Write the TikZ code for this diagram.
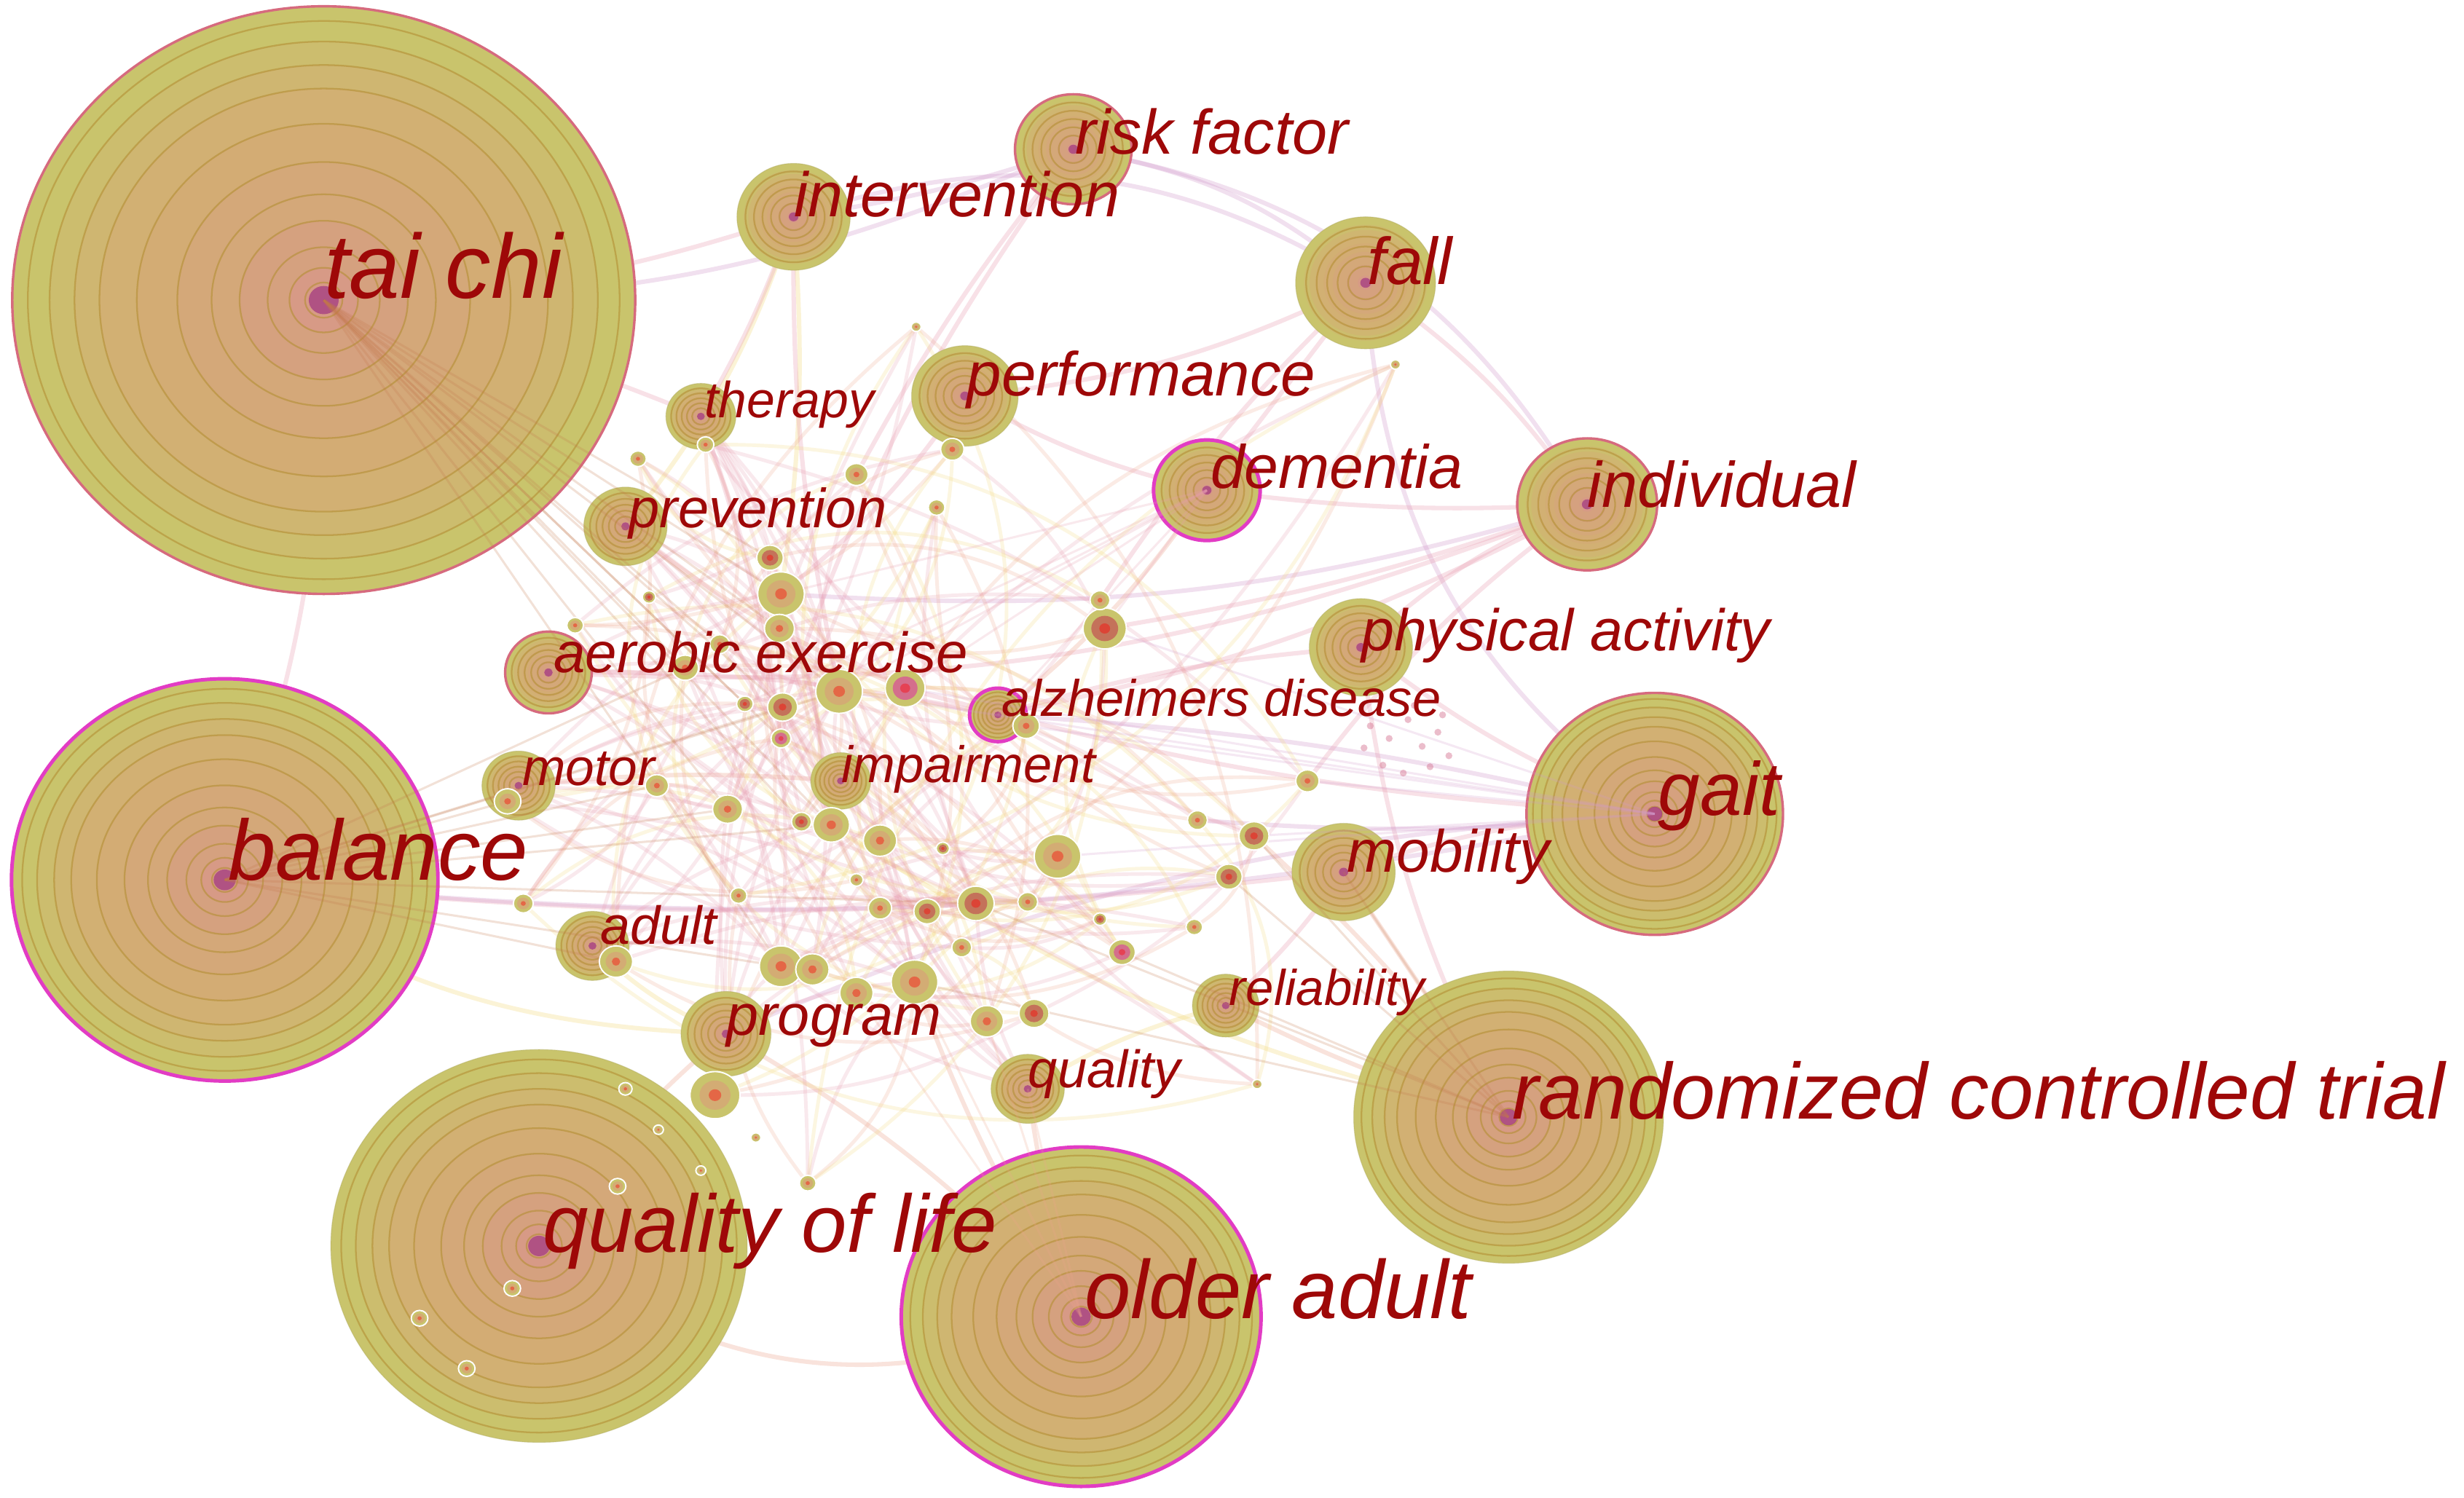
\documentclass[tikz,border=0pt]{standalone}
\usepackage{fontspec}
\newfontfamily\kwfont{Liberation Sans}
\usetikzlibrary{calc}

\definecolor{kwolive}{HTML}{C9C46C}
\definecolor{kwtan}{HTML}{D3AC74}
\definecolor{kwcore}{HTML}{D79A86}
\definecolor{kwringc}{HTML}{B48F34}
\definecolor{kwheart}{HTML}{A03482}
\definecolor{kwbrick}{HTML}{C4725A}
\definecolor{kwpinkc}{HTML}{D46E8C}
\definecolor{kwred}{HTML}{9E0808}
\definecolor{rimpinkc}{HTML}{D66A7E}
\definecolor{rimmagc}{HTML}{E23CC4}
\definecolor{lnkpurple}{HTML}{D29ACB}
\definecolor{lnkpink}{HTML}{E89CB0}
\definecolor{lnksalmon}{HTML}{EEA58C}
\definecolor{lnkyellow}{HTML}{F3D97A}
\definecolor{lnkbrown}{HTML}{C4784C}

\tikzset{
  kwring/.style={draw=kwringc, line width=0.6pt, opacity=0.6},
  rimpink/.style={draw=rimpinkc, line width=0.9pt},
  rimmag/.style={draw=rimmagc, line width=1.3pt},
  rimnone/.style={draw=kwolive!85!black, line width=0.3pt, opacity=0.4},
  lnk/.style={line width=1.6pt, opacity=0.3, line cap=round},
  web/.style={line width=1.3pt, opacity=0.22, line cap=round},
  fan/.style={lnkbrown, line width=0.8pt, opacity=0.22},
  kwlabel/.style={anchor=base west, inner sep=0pt, text=kwred,
    font=\kwfont\itshape\fontsize{#1}{#1}\selectfont}
}

\def\bigrings{0.95,0.88,0.8,0.72,0.6,0.47,0.36,0.27,0.18,0.11,0.06}
\def\smallrings{0.85,0.7,0.55,0.4,0.25}
% fill bands: radius fraction / colour
\def\bands{1/kwolive, 0.88/kwtan!30!kwolive, 0.8/kwtan!60!kwolive,
  0.72/kwtan!85!kwolive, 0.6/kwtan, 0.47/kwcore!25!kwtan,
  0.27/kwcore!60!kwtan, 0.11/kwcore}

% keyword: name/x/y/radius/rim
\def\kwlist{taichi/206/191/187/rimpink, balance/143/560/128/rimmag,
  qol/343/793/125/rimnone, olderadult/688/838/108/rimmag,
  rct/960/711/93/rimnone, gait/1053/518/77/rimpink,
  fall/869/180/42/rimnone, riskfactor/683/95/35/rimpink,
  intervention/505/138/34/rimnone, individual/1010/321/42/rimpink,
  dementia/768/312/32/rimmag, performance/614/252/32/rimnone,
  therapy/446/265/21/rimnone, prevention/398/335/25/rimnone,
  physact/866/412/31/rimnone, aerobic/349/428/26/rimpink,
  alzheimers/635/455/17/rimmag, motor/330/500/22/rimnone,
  impairment/535/497/18/rimnone, mobility/855/555/31/rimnone,
  adult/377/602/22/rimnone, program/462/658/27/rimnone,
  reliability/780/640/20/rimnone, quality/654/693/22/rimnone}

% small keywords: index/x/y/radius/core
\def\dotlist{1/490/355/8/kwbrick, 2/497/378/14/kwtan, 3/496/400/9/kwtan,
  4/545/302/7/kwtan, 5/596/323/5/kwtan, 6/583/208/3/kwtan, 7/606/286/7/kwtan,
  8/703/400/13/kwbrick, 9/700/382/6/kwtan, 10/534/440/14/kwtan,
  11/576/438/12/kwpinkc, 12/498/450/9/kwbrick, 13/497/470/6/kwpinkc,
  14/529/525/11/kwtan, 15/560/535/10/kwtan, 16/510/523/6/kwbrick,
  17/463/515/9/kwtan, 18/418/500/7/kwtan, 19/436/425/8/kwtan,
  20/474/448/5/kwbrick, 21/673/545/14/kwtan, 22/762/522/6/kwtan,
  23/798/532/9/kwbrick, 24/782/558/8/kwbrick, 25/832/497/7/kwtan,
  26/621/575/11/kwbrick, 27/590/580/8/kwbrick, 28/560/578/7/kwtan,
  29/582/625/14/kwtan, 30/612/603/6/kwtan, 31/654/574/6/kwtan,
  32/714/606/8/kwpinkc, 33/545/632/10/kwtan, 34/497/615/13/kwtan,
  35/517/617/10/kwtan, 36/628/650/10/kwtan, 37/658/645/9/kwbrick,
  38/455/697/15/kwtan, 39/514/753/5/kwtan, 40/392/612/10/kwtan,
  41/333/575/6/kwtan, 42/323/510/8/kwtan, 43/800/690/3/kwtan,
  44/888/232/3/kwtan, 45/406/292/5/kwtan, 46/449/283/5/kwtan,
  47/653/462/8/kwtan, 48/458/410/6/kwtan, 49/413/380/4/kwbrick,
  50/366/398/5/kwtan, 51/700/585/4/kwbrick, 52/760/590/5/kwtan,
  53/545/560/4/kwtan, 54/470/570/5/kwtan, 55/600/540/4/kwbrick,
  56/398/693/4/kwtan, 57/419/719/3/kwtan, 58/446/745/3/kwtan,
  59/393/755/5/kwtan, 60/326/820/5/kwtan, 61/267/839/5/kwtan,
  62/297/871/5/kwtan, 63/481/724/3/kwtan}

% tree-ring circle of a keyword
\newcommand{\kwcircle}[3]{%
  \ifnum#2>60 \let\ringset\bigrings \else \let\ringset\smallrings \fi
  \foreach \f/\c in \bands
    \fill[\c] (#1) ellipse [x radius=\f*1.06*#2, y radius=\f*#2];
  \foreach \f in \ringset
    \draw[kwring] (#1) ellipse [x radius=\f*1.06*#2, y radius=\f*#2];
  \fill[kwheart, opacity=0.7] (#1) ellipse [x radius=1.06*(1.5+0.04*#2), y radius=1.5+0.04*#2];
  \draw[#3] (#1) ellipse [x radius=1.06*#2, y radius=#2];
}
\newcommand{\kwdot}[3]{%
  \filldraw[kwolive, draw=white, line width=0.5pt]
    (#1) ellipse [x radius=1.06*#2, y radius=#2];
  \fill[#3] (#1) ellipse [x radius=0.62*1.06*#2, y radius=0.62*#2];
  \fill[#3!60!red] (#1) ellipse [x radius=0.25*1.06*#2, y radius=0.25*#2];
}

\begin{document}
\begin{tikzpicture}[x=0.02cm, y=-0.02cm]
  \useasboundingbox (0,0) rectangle (1568,953);
  \fill[white] (0,0) rectangle (1568,953);

  % positions
  \foreach \n/\x/\y/\r/\rim in \kwlist
    \coordinate (\n) at (\x,\y);
  \foreach \n/\x/\y/\r/\c in \dotlist
    \coordinate (d\n) at (\x,\y);

  % links between keywords
  \foreach \a/\b/\c/\bend in {intervention/fall/lnkpurple/25,
      riskfactor/fall/lnkpurple/15, riskfactor/individual/lnkpurple/25,
      fall/individual/lnkpink/10, fall/gait/lnkpurple/-25,
      fall/dementia/lnkpink/0, fall/performance/lnkpink/10,
      individual/dementia/lnkpink/5, individual/physact/lnkpink/-10,
      individual/alzheimers/lnkpink/8, individual/d8/lnkpink/5,
      individual/aerobic/lnkpink/12, individual/d2/lnkpurple/10,
      gait/alzheimers/lnkpurple/-5, gait/physact/lnkpink/8,
      gait/mobility/lnkpink/-8, gait/d11/lnkpink/6, gait/program/lnkpurple/-10,
      rct/mobility/lnksalmon/0, rct/reliability/lnksalmon/5,
      rct/d23/lnksalmon/-5, rct/physact/lnkpink/10, rct/d14/lnkyellow/10,
      olderadult/quality/lnksalmon/5, olderadult/program/lnksalmon/-8,
      olderadult/d29/lnksalmon/6, qol/program/lnksalmon/8,
      qol/olderadult/lnksalmon/-30, taichi/balance/lnkpink/10,
      taichi/intervention/lnkpink/-8, taichi/therapy/lnkpink/5,
      taichi/riskfactor/lnkpurple/-12, balance/mobility/lnkpink/-6,
      balance/gait/lnkpurple/-8, dementia/performance/lnkpink/8,
      riskfactor/intervention/lnkpurple/5, riskfactor/d4/lnkpink/-5,
      riskfactor/d12/lnkpink/-8, intervention/d2/lnkyellow/6,
      intervention/d10/lnkpink/-6, performance/d2/lnkpink/8,
      intervention/prevention/lnkyellow/10, therapy/d13/lnkpink/5,
      prevention/d11/lnksalmon/-8, aerobic/alzheimers/lnkpink/6,
      motor/impairment/lnksalmon/5, adult/program/lnkyellow/-10,
      mobility/reliability/lnkpink/6, quality/reliability/lnkyellow/8,
      physact/alzheimers/lnkpink/-6, dementia/alzheimers/lnksalmon/8,
      fall/d9/lnkpink/-6, individual/d25/lnkpink/-8, gait/d22/lnkpurple/5,
      balance/program/lnkyellow/-15, intervention/therapy/lnkpink/5}
    \draw[lnk, \c] (\a) to[bend left=\bend] (\b);

  % dense web in the middle
  \foreach \i in {1,...,55} {
    \pgfmathtruncatemacro\j{mod(\i*7,55)+1}
    \pgfmathtruncatemacro\k{mod(\i*17+5,55)+1}
    \pgfmathtruncatemacro\m{mod(\i*23+11,55)+1}
    \draw[web, lnksalmon] (d\i) to[bend left=25] (d\j);
    \draw[web, lnkyellow] (d\i) to[bend right=30] (d\k);
    \draw[web, lnkpink] (d\i) to[bend left=15] (d\m);
  }
  \foreach \t in {prevention,aerobic,motor,impairment,adult,program,therapy,quality}
    \foreach \i in {2,10,12,14,26,29,34}
      \draw[web, lnkpink] (\t) to[bend left=12] (d\i);

  % tree-ring circles
  \foreach \n/\x/\y/\r/\rim in \kwlist
    \kwcircle{\n}{\r}{\rim};

  % strong bundles out of the hubs
  \foreach \t in {d1,d2,d3,d10,d12,d19,d48,d14,d17,d34,d20,d13,d16}
    \draw[fan] (taichi) -- (\t);
  \foreach \t in {d18,d17,d12,d14,d34,d40,d42,d19,d10,d26}
    \draw[fan] (balance) -- (\t);
  \foreach \t in {d11,d21,d23,d25,d47,d8,d10}
    \draw[fan, lnkpurple] (gait) -- (\t);
  \foreach \t in {d23,d24,d32,d26,d29,mobility}
    \draw[fan] (rct) -- (\t);
  \foreach \t in {d10,d11,d2,d12,d8,d20,alzheimers}
    \draw[fan, lnkpink] (dementia) -- (\t);
  \foreach \t in {d29,d36,d33,quality}
    \draw[fan, lnksalmon] (olderadult) -- (\t);

  % pink speckles beside gait
  \foreach \x/\y in {872/462,884/470,896/458,905/475,915/466,922/481,
      880/487,893/492,910/488,868/476,900/449,918/455}
    \fill[kwpinkc, opacity=0.45] (\x,\y) circle[radius=2.2];

  % small keywords
  \foreach \n/\x/\y/\r/\c in \dotlist
    \kwdot{d\n}{\r}{\c};

  % labels
  \node[kwlabel=33] (l-taichi) at (206,190) {tai chi};
  \node[kwlabel=31] (l-balance) at (145,560) {balance};
  \node[kwlabel=29.6] (l-qol) at (345,797) {quality of life};
  \node[kwlabel=30] (l-olderadult) at (690,839) {older adult};
  \node[kwlabel=28.8] (l-rct) at (962,712) {randomized controlled trial};
  \node[kwlabel=27.3] (l-gait) at (1055,519) {gait};
  \node[kwlabel=24] (l-fall) at (870,181) {fall};
  \node[kwlabel=22.8] (l-riskfactor) at (684,98) {risk factor};
  \node[kwlabel=22.8] (l-intervention) at (505,138) {intervention};
  \node[kwlabel=23.3] (l-individual) at (1010,323) {individual};
  \node[kwlabel=22.2] (l-dementia) at (770,311) {dementia};
  \node[kwlabel=22.5] (l-performance) at (615,252) {performance};
  \node[kwlabel=18.4] (l-therapy) at (448,266) {therapy};
  \node[kwlabel=20] (l-prevention) at (400,336) {prevention};
  \node[kwlabel=21.3] (l-physact) at (866,414) {physical activity};
  \node[kwlabel=20.6] (l-aerobic) at (352,428) {aerobic exercise};
  \node[kwlabel=18.6] (l-alzheimers) at (637,456) {alzheimers disease};
  \node[kwlabel=18.8] (l-motor) at (332,500) {motor};
  \node[kwlabel=18.6] (l-impairment) at (535,498) {impairment};
  \node[kwlabel=21.6] (l-mobility) at (857,555) {mobility};
  \node[kwlabel=19.4] (l-adult) at (382,601) {adult};
  \node[kwlabel=20.9] (l-program) at (462,659) {program};
  \node[kwlabel=18.2] (l-reliability) at (782,640) {reliability};
  \node[kwlabel=19.1] (l-quality) at (654,692) {quality};
\end{tikzpicture}
\end{document}
